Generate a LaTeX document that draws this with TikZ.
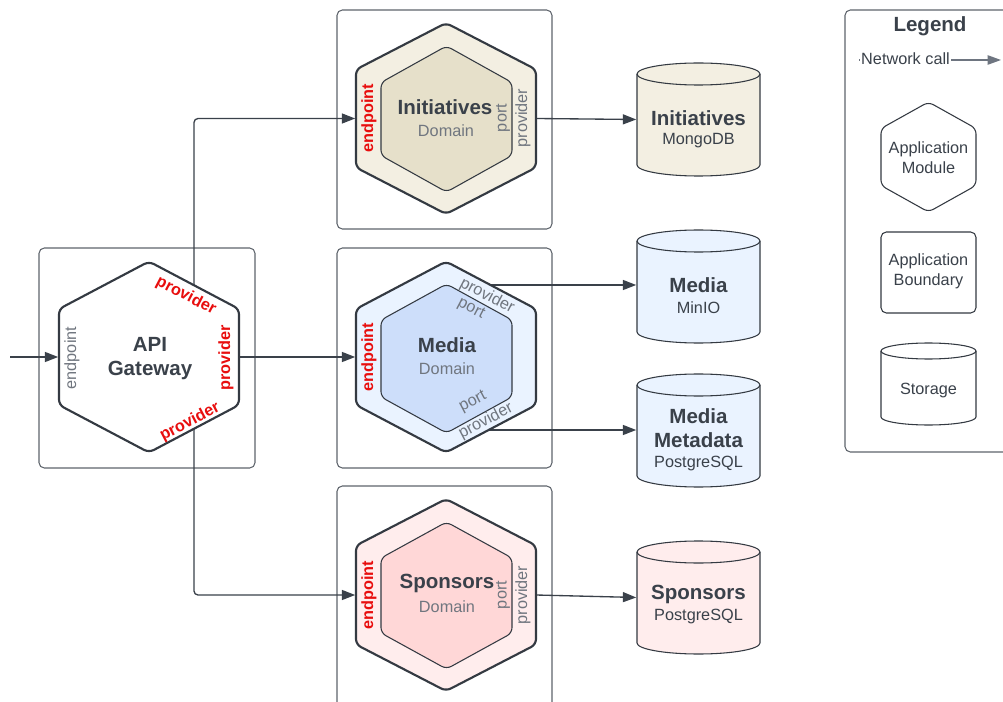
\documentclass[tikz,border=0pt]{standalone}
\usepackage{fontspec}
\setmainfont{Liberation Sans}
\usetikzlibrary{arrows.meta}
\definecolor{darktext}{RGB}{58,65,74}
\definecolor{graytext}{RGB}{112,118,127}
\definecolor{redcol}{RGB}{232,14,14}
\definecolor{boxcol}{RGB}{95,101,109}
\definecolor{conncol}{RGB}{58,65,74}
\definecolor{hexcol}{RGB}{52,58,66}
\definecolor{legarrowcol}{RGB}{110,117,128}
\definecolor{beigeOut}{RGB}{243,239,226}
\definecolor{beigeIn}{RGB}{230,224,202}
\definecolor{blueOut}{RGB}{234,243,255}
\definecolor{blueIn}{RGB}{205,222,250}
\definecolor{pinkOut}{RGB}{255,237,237}
\definecolor{pinkIn}{RGB}{255,215,215}
\pgfdeclarelayer{bglayer}
\pgfdeclarelayer{connlayer}
\pgfsetlayers{bglayer,connlayer,main}
\tikzset{
  pics/hexa/.style args={#1/#2/#3}{code={
    \path[pic actions, rounded corners=4pt] (0,-#2) -- (#1,-#3) -- (#1,#3) -- (0,#2) -- (-#1,#3) -- (-#1,-#3) -- cycle;
    \coordinate (-w) at (-#1,0);
    \coordinate (-e) at (#1,0);
  }},
  pics/cyl/.style args={#1/#2/#3}{code={
    \path[pic actions] (-#1,-#2+#3) -- (-#1,#2-#3) arc[start angle=180,end angle=0,x radius=#1,y radius=#3] -- (#1,-#2+#3) arc[start angle=0,end angle=-180,x radius=#1,y radius=#3] -- cycle;
    \draw[cylline] (-#1,-#2+#3) arc[start angle=180,end angle=0,x radius=#1,y radius=#3];
    \coordinate (-w) at (-#1,0);
  }},
  cylline/.style={draw=hexcol, line width=0.8pt},
  boxline/.style={draw=boxcol, line width=0.8pt, rounded corners=4pt},
  conn/.style={draw=conncol, line width=1pt, rounded corners=3pt, -{Triangle[length=10pt,width=7.5pt]}, shorten >=0.6pt},
  hexout/.style={draw=hexcol, line width=1.6pt},
  hexin/.style={draw=hexcol, line width=0.8pt},
  titlelab/.style={font=\fontsize{15.4}{18}\selectfont\bfseries, text=darktext, align=center, inner sep=0pt},
  sublab/.style={font=\fontsize{12.2}{15}\selectfont, text=darktext, align=center, inner sep=0pt},
  greylab/.style={font=\fontsize{12.2}{15}\selectfont, text=graytext, inner sep=0pt},
  redlab/.style={font=\fontsize{12.2}{15}\selectfont\bfseries, text=redcol, inner sep=0pt},
}
\begin{document}
\begin{tikzpicture}[x=0.75pt,y=-0.75pt]
\useasboundingbox (0,0) rectangle (1003,702);
\clip (0,0) rectangle (1003,702);
\begin{pgfonlayer}{bglayer}
\fill[white] (0,0) rectangle (1003,702);
% boundaries
\draw[boxline] (39,248) rectangle (255,468);
\draw[boxline] (337,10) rectangle (552,229);
\draw[boxline] (337,248) rectangle (552,468);
\draw[boxline] (337,486) rectangle (552,720);
\draw[boxline] (845,10) rectangle (1020,452);
\end{pgfonlayer}

% hexagons
\pic[hexout, fill=white] (gw) at (149,357) {hexa=90/95.5/48};
\pic[hexout, fill=beigeOut] (init) at (446,118.5) {hexa=90/95.5/49};
\pic[hexin, fill=beigeIn] (initin) at (446.5,119) {hexa=65.5/73/36.5};
\pic[hexout, fill=blueOut] (media) at (446,357) {hexa=90/95.5/48};
\pic[hexin, fill=blueIn] (mediain) at (446.5,358.5) {hexa=65.5/74.5/38.5};
\pic[hexout, fill=pinkOut] (spon) at (446,595) {hexa=90/96/49.5};
\pic[hexin, fill=pinkIn] (sponin) at (446.5,595.5) {hexa=65.5/73.5/37.5};

% storages
\pic[cylline, fill=beigeOut] (dbinit) at (698.5,119.5) {cyl=61.5/56.5/11};
\pic[cylline, fill=blueOut] (dbmedia) at (698.5,286.5) {cyl=61.5/56.5/11};
\pic[cylline, fill=blueOut] (dbmeta) at (698.5,430.5) {cyl=61.5/56.5/11};
\pic[cylline, fill=pinkOut] (dbspon) at (698.5,597.5) {cyl=61.5/56.5/11};

% connectors
\coordinate (entry) at (10,357);
\coordinate (gwup) at (194,330);
\coordinate (gwdown) at (194,400);
\coordinate (mediaup) at (490,285);
\coordinate (medialow) at (488,430);
\begin{pgfonlayer}{connlayer}
\draw[conn] (entry) -- (gw-w);
\draw[conn] (gwup) |- (init-w);
\draw[conn] (gwdown) |- (spon-w);
\draw[conn] (gw-e) -- (media-w);
\draw[conn] (init-e) -- (dbinit-w);
\draw[conn] (mediaup) -- (mediaup -| dbmedia-w);
\draw[conn] (medialow) -- (medialow -| dbmeta-w);
\draw[conn] (spon-e) -- (dbspon-w);
\end{pgfonlayer}

% API gateway labels
\node[titlelab] (gwname) at (150,359) {API\\Gateway};
\node[greylab, rotate=90] (gwend) at (72,358) {endpoint};
\node[redlab, rotate=-27.6] (gwp1) at (186,296) {provider};
\node[redlab, rotate=90] (gwp2) at (226,358) {provider};
\node[redlab, rotate=27.6] (gwp3) at (190,422) {provider};

% Initiatives labels
\node[titlelab] (initname) at (445,107) {Initiatives};
\node[greylab] (initdom) at (446,131) {Domain};
\node[redlab, rotate=90] (initend) at (369,118) {endpoint};
\node[greylab, rotate=90] (initport) at (503,118) {port};
\node[greylab, rotate=90] (initprov) at (523,118) {provider};

% Media labels
\node[titlelab] (medianame) at (447,345) {Media};
\node[greylab] (mediadom) at (447,369) {Domain};
\node[redlab, rotate=90] (mediaend) at (369,357) {endpoint};
\node[greylab, rotate=-27.6] (mediaprov1) at (487,296) {provider};
\node[greylab, rotate=-27.6] (mediaport1) at (471,309) {port};
\node[greylab, rotate=27.6] (mediaport2) at (473,402) {port};
\node[greylab, rotate=27.6] (mediaprov2) at (486,421) {provider};

% Sponsors labels
\node[titlelab] (sponname) at (447,583) {Sponsors};
\node[greylab] (spondom) at (447,607) {Domain};
\node[redlab, rotate=90] (sponend) at (369,595) {endpoint};
\node[greylab, rotate=90] (sponport) at (503,595) {port};
\node[greylab, rotate=90] (sponprov) at (523,595) {provider};

% storage labels
\node[titlelab] (dbinitname) at (698.5,118) {Initiatives};
\node[sublab] (dbinittech) at (698.5,141) {MongoDB};
\node[titlelab] (dbmedianame) at (698.5,285) {Media};
\node[sublab] (dbmediatech) at (698.5,308) {MinIO};
\node[titlelab] (dbmetaname) at (698.5,428) {Media\\Metadata};
\node[sublab] (dbmetatech) at (698.5,464) {PostgreSQL};
\node[titlelab] (dbsponname) at (698.5,594) {Sponsors};
\node[sublab] (dbspontech) at (698.5,617) {PostgreSQL};

% Legend
\node[titlelab] (legtitle) at (930,26) {Legend};
\coordinate (ncstart) at (859,60);
\coordinate (ncend) at (1001,60);
\draw[draw=legarrowcol, line width=1pt, -{Triangle[length=10pt,width=7pt]}] (ncstart) -- (ncend);
\node[sublab, fill=white, inner xsep=1pt, inner ysep=2pt] (nclab) at (905.5,59) {Network call};
\pic[hexin, fill=white] (leghex) at (928.5,157) {hexa=47.5/55/28.5};
\node[sublab] (leghexlab) at (928.5,158) {Application\\Module};
\draw[hexin, rounded corners=4pt] (881,232) rectangle (976,313);
\node[sublab] (legboxlab) at (928.5,271) {Application\\Boundary};
\pic[cylline, fill=white] (legcyl) at (928.5,384) {cyl=47.5/41/8};
\node[sublab] (legcyllab) at (928.5,391) {Storage};
\end{tikzpicture}
\end{document}
